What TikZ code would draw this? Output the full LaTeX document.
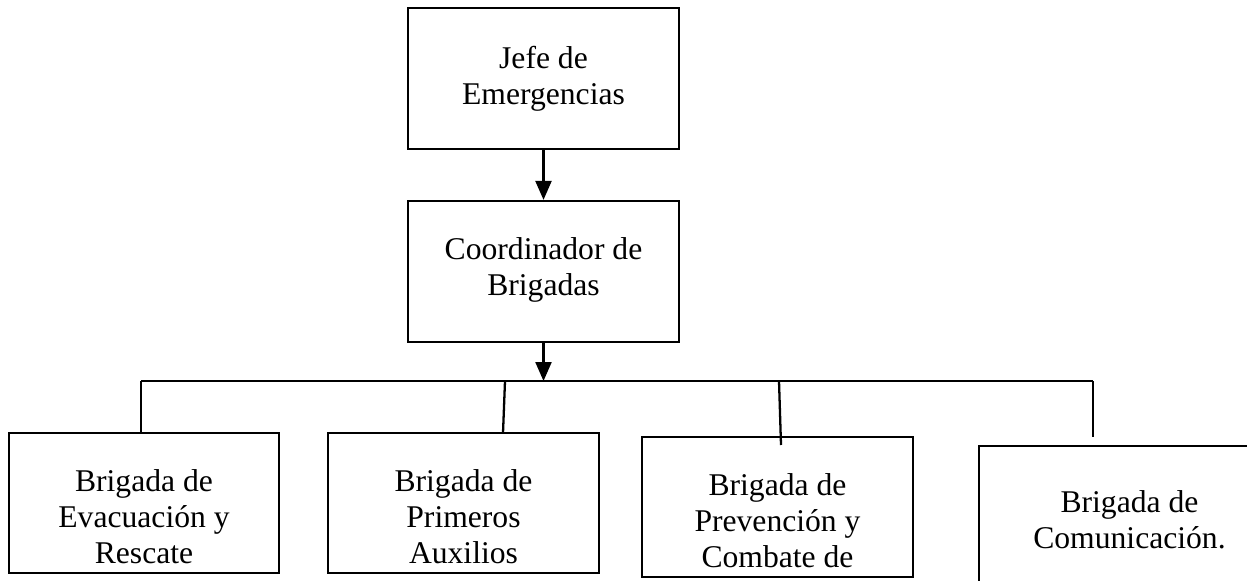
\documentclass[tikz,border=0pt]{standalone}
\usepackage{fontspec}
\setmainfont{Liberation Serif}
\usetikzlibrary{arrows.meta}
\newcommand{\bajar}[1]{\rule{0pt}{#1}}

\begin{document}
\begin{tikzpicture}[x=0.02cm,y=-0.02cm,
		caja/.style={draw, line width=1.3pt, minimum width=5.42cm, minimum height=2.82cm, inner sep=0pt, align=center, font=\fontsize{18}{20.5}\selectfont},
		linea/.style={line width=1.3pt},
		flecha/.style={line width=1.3pt, -{Triangle[length=0.38cm,width=0.32cm]}}]
		\useasboundingbox (0,0) rectangle (1247,581);
		\clip (0,0) rectangle (1247,581);
		\node[caja] (jefe) at (543.5,78.5) {Jefe de\\Emergencias};
		\node[caja] (coord) at (543.5,271.5) {Coordinador de\\Brigadas\rule[-0.2cm]{0pt}{0pt}};
		\node[caja, minimum width=5.4cm, minimum height=2.8cm] (evac) at (144,503) {\bajar{1cm}Brigada de\\Evacuación y\\Rescate};
		\node[caja, minimum height=2.8cm] (prim) at (463.5,503) {\bajar{1cm}Brigada de\\Primeros\\Auxilios};
		\node[caja, minimum height=2.8cm] (prev) at (777.5,507) {\bajar{1cm}Brigada de\\Prevención y\\Combate de};
		\node[caja, minimum width=6.02cm, minimum height=2.8cm] (com) at (1129.5,516) {\bajar{0.6cm}Brigada de\\Comunicación.};
		\coordinate (bus) at (543.5,381);
		\coordinate (busL) at (141,381);
		\coordinate (busR) at (1093,381);
		\coordinate (d2a) at (505,381);
		\coordinate (d2b) at (503,433);
		\coordinate (d3a) at (779,381);
		\coordinate (d3b) at (781,445);
		\coordinate (d4b) at (1093,437);
		\draw[flecha] (jefe) -- (coord);
		\draw[flecha] (coord) -- (bus);
		\draw[linea] (busL) -- (busR);
		\draw[linea] (busL) -- (busL |- evac.north);
		\draw[linea] (d2a) -- (d2b);
		\draw[linea] (d3a) -- (d3b);
		\draw[linea] (busR) -- (d4b);
	\end{tikzpicture}
\end{document}
